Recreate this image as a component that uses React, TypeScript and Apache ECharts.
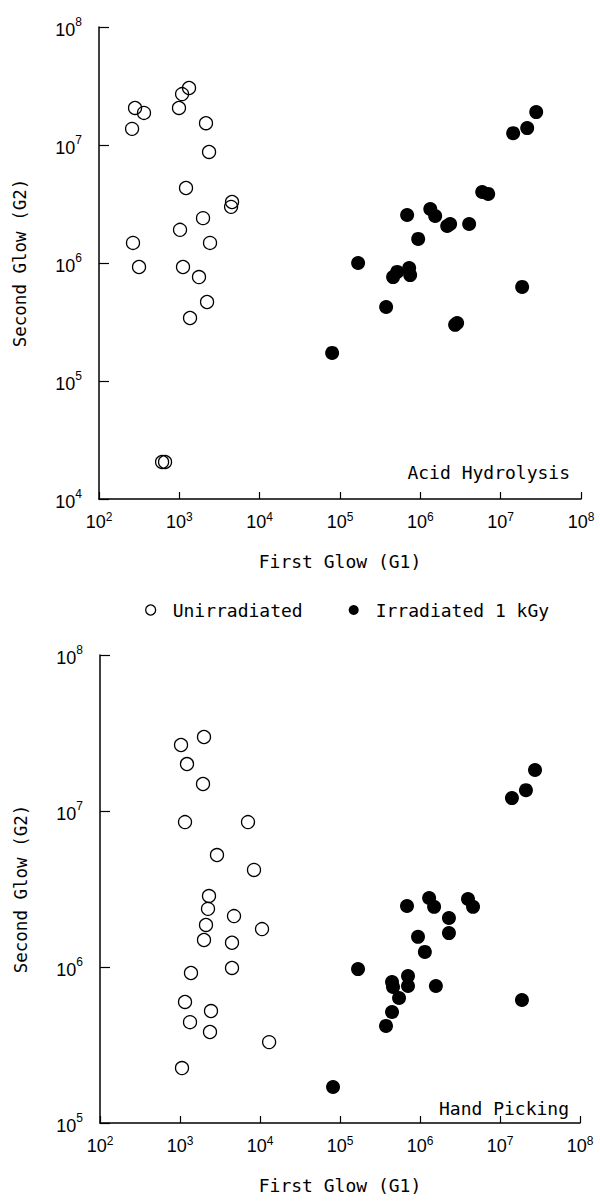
import React, { useEffect, useRef } from "react";
import * as echarts from "echarts";

// Tick exponents (labels are 10^n)
const xTickExponents = [2, 3, 4, 5, 6, 7, 8];
const yTickExponentsTop = [4, 5, 6, 7, 8];
const yTickExponentsBottom = [5, 6, 7, 8];

const seriesNames = ["Unirradiated", "Irradiated 1 kGy"];
const panelLabels = ["Acid Hydrolysis", "Hand Picking"];

// Acid Hydrolysis panel: [G1, G2]
const acidUnirradiated: [number, number][] = [
  [281, 2.06e7], [363, 1.87e7], [258, 1.37e7], [1082, 2.7e7], [1321, 3.04e7],
  [990, 2.06e7], [2147, 1.53e7], [2344, 8.73e6], [1211, 4.32e6], [4529, 3.29e6],
  [4406, 2.99e6], [1972, 2.4e6], [1020, 1.91e6], [265, 1.48e6], [2410, 1.48e6],
  [315, 9.25e5], [1111, 9.25e5], [1757, 7.6e5], [2213, 4.67e5], [1359, 3.42e5],
  [610, 2.06e4], [664, 2.06e4],
];
const acidIrradiated: [number, number][] = [
  [7.98e4, 1.73e5], [1.68e5, 1.0e6], [3.75e5, 4.24e5], [4.58e5, 7.6e5], [5.14e5, 8.4e5],
  [7.26e5, 9.08e5], [7.47e5, 7.9e5], [6.85e5, 2.55e6], [9.4e5, 1.6e6], [1.33e6, 2.87e6],
  [1.53e6, 2.5e6], [2.16e6, 2.06e6], [2.35e6, 2.14e6], [4.05e6, 2.14e6], [2.71e6, 2.99e5],
  [2.87e6, 3.1e5], [5.89e6, 4.0e6], [6.99e6, 3.85e6], [1.85e7, 6.27e5], [1.43e7, 1.26e7],
  [2.14e7, 1.39e7], [2.77e7, 1.9e7],
];

// Hand Picking panel: [G1, G2]
const handUnirradiated: [number, number][] = [
  [1030, 2.65e7], [1995, 2.98e7], [1223, 2.0e7], [1939, 1.49e7], [1155, 8.49e6],
  [7079, 8.49e6], [2900, 5.22e6], [8414, 4.19e6], [2304, 2.85e6], [2239, 2.36e6],
  [4732, 2.12e6], [2113, 1.86e6], [10600, 1.75e6], [1995, 1.49e6], [4467, 1.43e6],
  [4467, 9.86e5], [1372, 9.15e5], [1155, 5.97e5], [2441, 5.22e5], [1334, 4.43e5],
  [2371, 3.83e5], [13000, 3.3e5], [1059, 2.25e5],
];
const handIrradiated: [number, number][] = [
  [2.74e7, 1.83e7], [2.11e7, 1.36e7], [1.41e7, 1.21e7], [6.88e5, 2.46e6], [1.3e6, 2.77e6],
  [1.5e6, 2.43e6], [3.98e6, 2.73e6], [4.6e6, 2.43e6], [2.3e6, 2.06e6], [2.3e6, 1.65e6],
  [9.44e5, 1.56e6], [1.15e6, 1.25e6], [1.68e5, 9.7e5], [4.47e5, 8.0e5], [7.08e5, 8.75e5],
  [4.6e5, 7.45e5], [7.08e5, 7.55e5], [1.58e6, 7.55e5], [5.47e5, 6.33e5], [1.88e7, 6.14e5],
  [4.47e5, 5.15e5], [3.76e5, 4.19e5], [8.18e4, 1.7e5],
];

const MONO = "'DejaVu Sans Mono', monospace";
const SANS = "'Liberation Sans', Arial, sans-serif";

function powLabel(v: number, exps: number[]) {
  const e = Math.round(Math.log10(v));
  if (exps.indexOf(e) < 0) return "";
  return `{b|10}{s|${e}}`;
}

function makeX(gridIndex: number) {
  return {
    type: "log",
    logBase: 10,
    gridIndex,
    min: 1e2,
    max: 1e8,
    name: "First Glow (G1)",
    nameLocation: "middle",
    nameGap: 53,
    nameTextStyle: { fontFamily: MONO, fontSize: 18, color: "#000" },
    axisLine: { show: true, onZero: false, lineStyle: { color: "#000", width: 1.5 } },
    axisTick: { show: true, inside: true, length: 7, lineStyle: { color: "#000", width: 1.2 } },
    minorTick: { show: false },
    splitLine: { show: false },
    axisLabel: {
      margin: 12,
      color: "#000",
      formatter: (v: number) => powLabel(v, xTickExponents),
      rich: {
        b: { fontFamily: SANS, fontSize: 18, color: "#000", verticalAlign: "bottom" },
        s: { fontFamily: SANS, fontSize: 12, color: "#000", verticalAlign: "bottom", padding: [0, 0, 8, 0] },
      },
    },
  };
}

function makeY(gridIndex: number, min: number, exps: number[]) {
  return {
    type: "log",
    logBase: 10,
    gridIndex,
    min,
    max: 1e8,
    name: "Second Glow (G2)",
    nameLocation: "middle",
    nameGap: 70,
    nameTextStyle: { fontFamily: MONO, fontSize: 17.5, color: "#000" },
    axisLine: { show: true, onZero: false, lineStyle: { color: "#000", width: 1.5 } },
    axisTick: { show: true, inside: true, length: 10, lineStyle: { color: "#000", width: 1.2 } },
    minorTick: { show: false },
    splitLine: { show: false },
    axisLabel: {
      margin: 17,
      color: "#000",
      formatter: (v: number) => powLabel(v, exps),
      rich: {
        b: { fontFamily: SANS, fontSize: 18, color: "#000", verticalAlign: "bottom" },
        s: { fontFamily: SANS, fontSize: 12, color: "#000", verticalAlign: "bottom", padding: [0, 0, 11, 0] },
      },
    },
  };
}

const openStyle = { color: "rgba(0,0,0,0)", borderColor: "#000", borderWidth: 1.3, opacity: 1 };
const filledStyle = { color: "#000", opacity: 1 };

export default function App() {
  const ref = useRef<HTMLDivElement>(null);
  useEffect(() => {
    if (!ref.current) return;
    const chart = echarts.init(ref.current, null, { renderer: "svg" });
    chart.setOption({
      animation: false,
      backgroundColor: "#fff",
      grid: [
        { left: 99, top: 27, width: 482, height: 472 },
        { left: 100, top: 655, width: 480, height: 468 },
      ],
      xAxis: [makeX(0), makeX(1)],
      yAxis: [makeY(0, 1e4, yTickExponentsTop), makeY(1, 1e5, yTickExponentsBottom)],
      legend: {
        left: 140,
        top: 596,
        itemWidth: 10,
        itemHeight: 10,
        itemGap: 46,
        icon: "circle",
        selectedMode: false,
        textStyle: { fontFamily: MONO, fontSize: 18, color: "#000", padding: [0, 0, 0, 12] },
        data: [
          { name: seriesNames[0], itemStyle: { color: "#fff", borderColor: "#000", borderWidth: 1.3, opacity: 1 } },
          { name: seriesNames[1], itemStyle: { color: "#000", opacity: 1 } },
        ],
      },
      graphic: [
        { type: "text", right: 30, top: 463, style: { text: panelLabels[0], font: `18px ${MONO}`, fill: "#000" } },
        { type: "text", right: 31, top: 1099, style: { text: panelLabels[1], font: `18px ${MONO}`, fill: "#000" } },
      ],
      series: [
        { name: seriesNames[0], type: "scatter", xAxisIndex: 0, yAxisIndex: 0, symbol: "circle", symbolSize: 13, itemStyle: openStyle, data: acidUnirradiated },
        { name: seriesNames[1], type: "scatter", xAxisIndex: 0, yAxisIndex: 0, symbol: "circle", symbolSize: 14, itemStyle: filledStyle, data: acidIrradiated },
        { name: seriesNames[0], type: "scatter", xAxisIndex: 1, yAxisIndex: 1, symbol: "circle", symbolSize: 13, itemStyle: openStyle, data: handUnirradiated },
        { name: seriesNames[1], type: "scatter", xAxisIndex: 1, yAxisIndex: 1, symbol: "circle", symbolSize: 14, itemStyle: filledStyle, data: handIrradiated },
      ],
    });
    return () => chart.dispose();
  }, []);
  return <div ref={ref} style={{ position: "absolute", left: 0, top: 0, width: 600, height: 1203 }} />;
}
